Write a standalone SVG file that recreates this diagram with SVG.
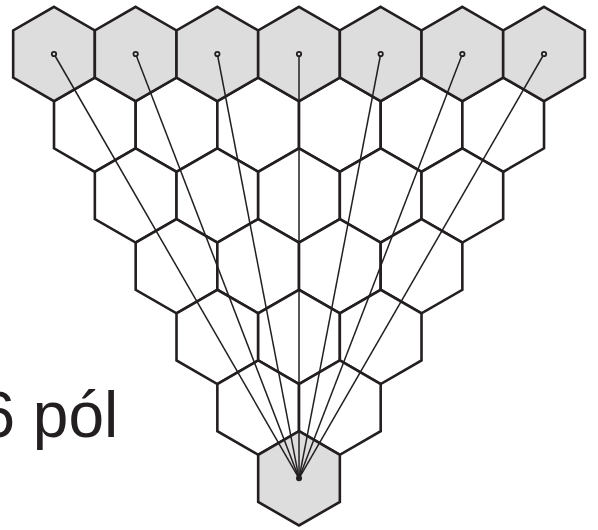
<svg xmlns="http://www.w3.org/2000/svg" xmlns:xlink="http://www.w3.org/1999/xlink" width="598" height="530" viewBox="0 0 598 530">
<style>
#hexes use{stroke:#231f20;stroke-width:2.6;stroke-linejoin:miter;fill:#ffffff}
#hexes .g use{fill:#dddddd}
.conn line{stroke:#231f20;stroke-width:1.5}
.dot{fill:#dddddd;stroke:#231f20;stroke-width:1.8}
.lbl{font-family:"Liberation Sans",Arial,sans-serif;font-size:64px;fill:#231f20}
</style>
<defs>
<path id="h" d="M0,-47.15 L40.83,-23.575 L40.83,23.575 L0,47.15 L-40.83,23.575 L-40.83,-23.575 Z"/>
</defs>
<rect width="598" height="530" fill="#ffffff"/>
<g id="hexes">
<g id="r1c1"><use href="#h" x="94.84" y="124.73"/></g>
<g id="r1c2"><use href="#h" x="176.51" y="124.73"/></g>
<g id="r1c3"><use href="#h" x="258.18" y="124.73"/></g>
<g id="r1c4"><use href="#h" x="339.85" y="124.73"/></g>
<g id="r1c5"><use href="#h" x="421.52" y="124.73"/></g>
<g id="r1c6"><use href="#h" x="503.19" y="124.73"/></g>
<g id="r2c1"><use href="#h" x="135.67" y="195.45"/></g>
<g id="r2c2"><use href="#h" x="217.34" y="195.45"/></g>
<g id="r2c3"><use href="#h" x="299.01" y="195.45"/></g>
<g id="r2c4"><use href="#h" x="380.68" y="195.45"/></g>
<g id="r2c5"><use href="#h" x="462.35" y="195.45"/></g>
<g id="r3c1"><use href="#h" x="176.51" y="266.18"/></g>
<g id="r3c2"><use href="#h" x="258.18" y="266.18"/></g>
<g id="r3c3"><use href="#h" x="339.85" y="266.18"/></g>
<g id="r3c4"><use href="#h" x="421.52" y="266.18"/></g>
<g id="r4c1"><use href="#h" x="217.34" y="336.9"/></g>
<g id="r4c2"><use href="#h" x="299.01" y="336.9"/></g>
<g id="r4c3"><use href="#h" x="380.68" y="336.9"/></g>
<g id="r5c1"><use href="#h" x="258.18" y="407.63"/></g>
<g id="r5c2"><use href="#h" x="339.85" y="407.63"/></g>
<g id="top1" class="g"><use href="#h" x="54" y="54"/></g>
<g id="top2" class="g"><use href="#h" x="135.67" y="54"/></g>
<g id="top3" class="g"><use href="#h" x="217.34" y="54"/></g>
<g id="top4" class="g"><use href="#h" x="299.01" y="54"/></g>
<g id="top5" class="g"><use href="#h" x="380.68" y="54"/></g>
<g id="top6" class="g"><use href="#h" x="462.35" y="54"/></g>
<g id="top7" class="g"><use href="#h" x="544.02" y="54"/></g>
<g id="bottom" class="g"><use href="#h" x="299.01" y="478.35"/></g>
</g>
<g id="connectors" class="conn">
<line x1="54" y1="54" x2="299.01" y2="478.35"/>
<line x1="135.67" y1="54" x2="299.01" y2="478.35"/>
<line x1="217.34" y1="54" x2="299.01" y2="478.35"/>
<line x1="299.01" y1="54" x2="299.01" y2="478.35"/>
<line x1="380.68" y1="54" x2="299.01" y2="478.35"/>
<line x1="462.35" y1="54" x2="299.01" y2="478.35"/>
<line x1="544.02" y1="54" x2="299.01" y2="478.35"/>
</g>
<g id="dots">
<circle class="dot" cx="54" cy="54" r="2.2"/>
<circle class="dot" cx="135.67" cy="54" r="2.2"/>
<circle class="dot" cx="217.34" cy="54" r="2.2"/>
<circle class="dot" cx="299.01" cy="54" r="2.2"/>
<circle class="dot" cx="380.68" cy="54" r="2.2"/>
<circle class="dot" cx="462.35" cy="54" r="2.2"/>
<circle class="dot" cx="544.02" cy="54" r="2.2"/>
<circle cx="299.01" cy="478.35" r="3" fill="#231f20"/>
</g>
<text class="lbl" x="-20.6" y="437">6 pól</text>
</svg>
